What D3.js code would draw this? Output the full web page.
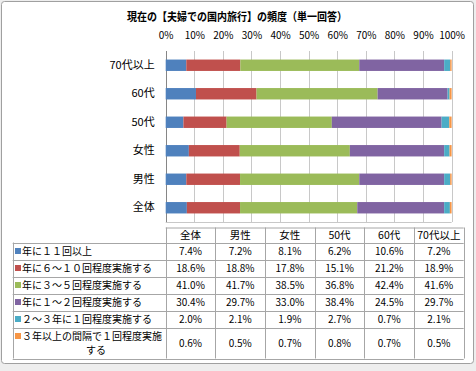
<!doctype html>
<html lang="ja">
<head>
<meta charset="utf-8">
<title>夫婦での国内旅行の頻度</title>
<style>
  html, body { margin: 0; padding: 0; background: #eeeeee; }
  svg { display: block; }
  text { font-family: "Noto Sans CJK JP", "Noto Sans", sans-serif; fill: #000; }
  .grid line { stroke: #c8c8c8; stroke-width: 1; }
  .tbl line { stroke: #a6a6a6; stroke-width: 1; }
</style>
</head>
<body>
<div id="chart"></div>
<script src="https://d3js.org/d3.v7.min.js"></script>
<script>
const categories = ['全体', '男性', '女性', '50代', '60代', '70代以上'];
const seriesNames = [
  '年に１１回以上',
  '年に６～１０回程度実施する',
  '年に３～５回程度実施する',
  '年に１～２回程度実施する',
  '２～３年に１回程度実施する',
  '３年以上の間隔で１回程度実施する'
];
const over11 = [7.4, 7.2, 8.1, 6.2, 10.6, 7.2];
const times6to10 = [18.6, 18.8, 17.8, 15.1, 21.2, 18.9];
const times3to5 = [41.0, 41.7, 38.5, 36.8, 42.4, 41.6];
const times1to2 = [30.4, 29.7, 33.0, 38.4, 24.5, 29.7];
const every2to3y = [2.0, 2.1, 1.9, 2.7, 0.7, 2.1];
const every3yPlus = [0.6, 0.5, 0.7, 0.8, 0.7, 0.5];
const seriesValues = [over11, times6to10, times3to5, times1to2, every2to3y, every3yPlus];
const tickValues = [0, 0.1, 0.2, 0.3, 0.4, 0.5, 0.6, 0.7, 0.8, 0.9, 1];

const colors = ['#4f81bd', '#c0504d', '#9bbb59', '#8064a2', '#4bacc6', '#f79646'];

const width = 476, height = 371;
const plot = { left: 165.7, right: 451.6, top: 51, bottom: 222 };

const svg = d3.select('#chart').append('svg')
  .attr('width', width)
  .attr('height', height);

// chart frame
svg.append('rect')
  .attr('x', 1.5).attr('y', 1.5)
  .attr('width', 472).attr('height', 362)
  .attr('rx', 3)
  .attr('fill', '#fff')
  .attr('stroke', '#a0a0a0');

svg.append('text')
  .attr('x', 237).attr('y', 20.5)
  .attr('text-anchor', 'middle')
  .attr('font-size', 11.5)
  .attr('font-weight', 'bold')
  .attr('textLength', 220)
  .attr('lengthAdjust', 'spacingAndGlyphs')
  .text('現在の【夫婦での国内旅行】の頻度（単一回答）');

// rows as objects for d3.stack
const rows = categories.map((c, i) => {
  const r = { cat: c };
  seriesNames.forEach((s, j) => { r[s] = seriesValues[j][i]; });
  return r;
});

const stack = d3.stack().keys(seriesNames).offset(d3.stackOffsetExpand);
const stacked = stack(rows);

const x = d3.scaleLinear().domain([0, 1]).range([plot.left, plot.right]);
const y = d3.scaleBand()
  .domain(categories.slice().reverse())
  .range([plot.top, plot.bottom])
  .paddingInner(0.6)
  .paddingOuter(0.3);

// gridlines
svg.append('g').attr('class', 'grid')
  .selectAll('line')
  .data(tickValues.slice(1))
  .join('line')
  .attr('x1', d => Math.round(x(d)) + 0.5)
  .attr('x2', d => Math.round(x(d)) + 0.5)
  .attr('y1', plot.top)
  .attr('y2', plot.bottom);

// axis line on the left, base line at bottom
svg.append('line')
  .attr('x1', Math.round(plot.left) + 0.5).attr('x2', Math.round(plot.left) + 0.5)
  .attr('y1', plot.top).attr('y2', plot.bottom)
  .attr('stroke', '#868686');
svg.append('line')
  .attr('x1', plot.left).attr('x2', plot.right)
  .attr('y1', plot.bottom + 0.5).attr('y2', plot.bottom + 0.5)
  .attr('stroke', '#c8c8c8');

// top axis labels
const axis = svg.append('g')
  .attr('transform', 'translate(0,38.5)')
  .call(d3.axisTop(x).tickValues(tickValues).tickFormat(d3.format('.0%')).tickSize(0).tickPadding(0));
axis.select('.domain').remove();
axis.selectAll('text')
  .attr('font-size', 10)
  .attr('font-family', '"Noto Sans CJK JP", sans-serif')
  .attr('y', 0)
  .attr('dy', 0)
  .attr('fill', '#000');

// category labels
const yAxis = svg.append('g')
  .attr('transform', `translate(${plot.left - 8},0)`)
  .call(d3.axisLeft(y).tickSize(0));
yAxis.select('.domain').remove();
yAxis.selectAll('text')
  .attr('font-size', 11)
  .attr('font-family', '"Noto Sans CJK JP", sans-serif')
  .attr('fill', '#000');

// bars
svg.append('g')
  .selectAll('g')
  .data(stacked)
  .join('g')
  .attr('fill', (d, i) => colors[i])
  .selectAll('rect')
  .data(d => d)
  .join('rect')
  .attr('x', d => x(d[0]))
  .attr('width', d => x(d[1]) - x(d[0]))
  .attr('y', d => y(d.data.cat))
  .attr('height', y.bandwidth());

// data table
const tbl = { left: 12.7, top: 227.5, headBottom: 242.5, right: 463.7 };
const rowH = [17, 17, 17, 17, 17, 31];
const rowTops = [];
rowH.reduce((acc, h) => { rowTops.push(acc); return acc + h; }, tbl.headBottom);
const tblBottom = rowTops[rowTops.length - 1] + rowH[rowH.length - 1];

const col = d3.scaleBand().domain(categories).range([plot.left, tbl.right]);

const t = svg.append('g').attr('class', 'tbl');

// horizontal lines
t.append('line')
  .attr('x1', plot.left).attr('x2', tbl.right)
  .attr('y1', tbl.top + 0.5).attr('y2', tbl.top + 0.5);
t.selectAll('line.h')
  .data(rowTops.concat([tblBottom]))
  .join('line')
  .attr('class', 'h')
  .attr('x1', tbl.left).attr('x2', tbl.right)
  .attr('y1', d => Math.round(d) + 0.5).attr('y2', d => Math.round(d) + 0.5);

// vertical lines
t.append('line')
  .attr('x1', Math.round(tbl.left) + 0.5).attr('x2', Math.round(tbl.left) + 0.5)
  .attr('y1', tbl.headBottom).attr('y2', tblBottom);
t.selectAll('line.v')
  .data(categories.map(c => col(c)).concat([tbl.right]))
  .join('line')
  .attr('class', 'v')
  .attr('x1', d => Math.round(d) + 0.5).attr('x2', d => Math.round(d) + 0.5)
  .attr('y1', tbl.top).attr('y2', tblBottom);

// header texts
t.selectAll('text.head')
  .data(categories)
  .join('text')
  .attr('class', 'head')
  .attr('x', d => col(d) + col.bandwidth() / 2)
  .attr('y', (tbl.top + tbl.headBottom) / 2)
  .attr('dy', '0.35em')
  .attr('text-anchor', 'middle')
  .attr('font-size', 10.5)
  .text(d => d);

// legend cells
const legendRows = t.selectAll('g.lrow')
  .data(seriesNames)
  .join('g')
  .attr('class', 'lrow');

legendRows.append('rect')
  .attr('x', 15)
  .attr('y', (d, i) => rowTops[i] + (i === 5 ? 8.5 : rowH[i] / 2) - 3)
  .attr('width', 6).attr('height', 6)
  .attr('fill', (d, i) => colors[i]);

legendRows.append('text')
  .attr('x', 22)
  .attr('y', (d, i) => rowTops[i] + (i === 5 ? 8.5 : rowH[i] / 2))
  .attr('dy', '0.35em')
  .attr('font-size', 10)
  .text((d, i) => i === 5 ? d.slice(0, -2) : d);

// wrapped tail of the last legend label
t.append('text')
  .attr('x', 96)
  .attr('y', rowTops[5] + 23)
  .attr('dy', '0.35em')
  .attr('text-anchor', 'middle')
  .attr('font-size', 10)
  .text(seriesNames[5].slice(-2));

// values
seriesValues.forEach((vals, i) => {
  t.append('g')
    .selectAll('text')
    .data(vals)
    .join('text')
    .attr('x', (d, j) => col(categories[j]) + col.bandwidth() / 2)
    .attr('y', rowTops[i] + rowH[i] / 2)
    .attr('dy', '0.35em')
    .attr('text-anchor', 'middle')
    .attr('font-size', 10)
    .text(d => d.toFixed(1) + '%');
});
</script>
</body>
</html>
